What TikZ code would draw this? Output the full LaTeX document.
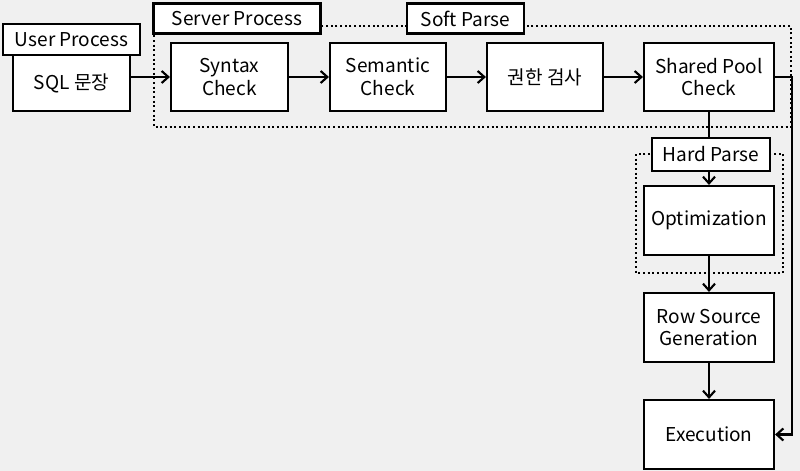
\documentclass[tikz,border=0pt]{standalone}
\usepackage{fontspec}
\setmainfont{Noto Sans CJK KR}
\usepackage{tikz}
\usetikzlibrary{arrows.meta}
\tikzstyle{box}=[draw,line width=1.6pt,fill=white,align=center,inner sep=0pt,font=\fontsize{14.3}{17}\selectfont]
\tikzstyle{tag}=[draw,line width=1.6pt,fill=white,inner sep=0pt,font=\fontsize{14.3}{17}\selectfont]
\tikzstyle{edge}=[draw,line width=1.6pt,-{Straight Barb[length=5pt,width=9pt]}]
\tikzstyle{link}=[draw,line width=1.6pt,-]
\tikzstyle{group}=[draw,line width=1.5pt,dotted]

\begin{document}
\begin{tikzpicture}[x=0.75pt,y=-0.75pt]
        \fill[black!6] (0,0) rectangle (800,471);
        \useasboundingbox (0,0) rectangle (800,471);
        % groups
        \draw[group] (154,26) rectangle (791,127);
        \draw[group] (636,154) rectangle (783,273);
        % boxes
        \node[box,minimum width=87.75pt,minimum height=42pt] (sql) at (71.5,83) {SQL 문장};
        \node[box,minimum width=87.75pt,minimum height=51pt] (syn) at (229.5,77) {Syntax\\Check};
        \node[box,minimum width=87pt,minimum height=51pt] (sem) at (388,77) {Semantic\\Check};
        \node[box,minimum width=87pt,minimum height=51pt] (auth) at (545,77) {권한 검사};
        \node[box,minimum width=97.5pt,minimum height=51pt] (spc) at (709,77) {Shared Pool\\Check};
        \node[box,minimum width=97.5pt,minimum height=51.75pt] (opt) at (709,220.5) {Optimization};
        \node[box,minimum width=97.5pt,minimum height=51.75pt] (rsg) at (709,327.5) {Row Source\\Generation};
        \node[box,minimum width=97.5pt,minimum height=51.75pt] (exe) at (709,434.5) {Execution};
        % tags
        \node[tag,minimum width=102.75pt,minimum height=23.25pt] (user) at (71.5,39.5) {User Process};
        \node[tag,minimum width=125.25pt,minimum height=22.5pt] (server) at (237,18.5) {Server Process};
        \node[tag,minimum width=87.75pt,minimum height=22.5pt] (soft) at (465.5,18.5) {Soft Parse};
        \node[tag,minimum width=88.5pt,minimum height=24.75pt] (hard) at (711,154.5) {Hard Parse};
        \coordinate (turn) at (792,0);
        % connectors
        \draw[edge] (sql.east |- syn.west) to (syn.west);
        \draw[edge] (syn) to (sem);
        \draw[edge] (sem) to (auth);
        \draw[edge] (auth) to (spc);
        \draw[link] (spc.south) to (spc.south |- hard.north);
        \draw[edge] (spc.south |- hard.south) to (opt.north);
        \draw[edge] (opt) to (rsg);
        \draw[edge] (rsg) to (exe);
        \draw[edge] (spc.east) -- (spc.east -| turn) |- (exe.east);
\end{tikzpicture}
\end{document}
